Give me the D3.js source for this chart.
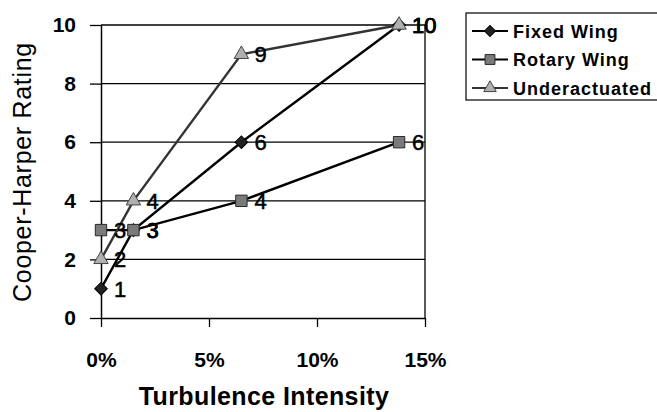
<!DOCTYPE html>
<html>
<head>
<meta charset="utf-8">
<script src="https://cdn.jsdelivr.net/npm/d3@7"></script>
<style>
  html, body { margin: 0; padding: 0; background: #fff; }
  svg { display: block; font-family: Arial, "Liberation Sans", sans-serif; }
</style>
</head>
<body>
<svg id="chart" width="657" height="412"></svg>
<script>
// Turbulence intensity (fraction) at which each configuration was flown
const turbulence = [0, 0.015, 0.065, 0.138];
const seriesNames = ["Fixed Wing", "Rotary Wing", "Underactuated"];
const fixedWing = [1, 3, 6, 10];
const rotaryWing = [3, 3, 4, 6];
const underactuated = [2, 4, 9, 10];
const xTicks = [0, 0.05, 0.10, 0.15];
const yTicks = [0, 2, 4, 6, 8, 10];

// Marker styles: diamond (rotated square), square, triangle
const series = [
  { name: seriesNames[0], values: fixedWing, shape: d3.symbolSquare, rot: 45, fill: "#222", stroke: "#000", line: "#000", size: 80 },
  { name: seriesNames[1], values: rotaryWing, shape: d3.symbolSquare, rot: 0, fill: "#7a7a7a", stroke: "#2a2a2a", line: "#000", size: 130 },
  { name: seriesNames[2], values: underactuated, shape: d3.symbolTriangle, rot: 0, fill: "#b0b0b0", stroke: "#444", line: "#333", size: 90 }
];

const svg = d3.select("#chart");
const m = { left: 101, right: 425, top: 25, bottom: 318 };

const x = d3.scaleLinear().domain([0, 0.15]).range([m.left, m.right]);
const y = d3.scaleLinear().domain([0, 10]).range([m.bottom, m.top]);

// Horizontal gridlines
svg.append("g")
  .selectAll("line")
  .data(yTicks.filter(v => v > 0))
  .join("line")
  .attr("x1", m.left).attr("x2", m.right)
  .attr("y1", d => y(d)).attr("y2", d => y(d))
  .attr("stroke", "#000").attr("stroke-width", 1.3);

// Right border of the plot area
svg.append("line")
  .attr("x1", m.right).attr("x2", m.right)
  .attr("y1", m.top).attr("y2", m.bottom)
  .attr("stroke", "#000").attr("stroke-width", 1.3);

// Y axis
const yAxis = svg.append("g")
  .attr("transform", `translate(${m.left},0)`)
  .call(d3.axisLeft(y).tickValues(yTicks).tickSize(11).tickSizeOuter(0).tickPadding(14).tickFormat(d3.format("d")));
yAxis.select(".domain").attr("stroke", "#000").attr("stroke-width", 1.5);
yAxis.selectAll(".tick line").attr("stroke", "#000").attr("stroke-width", 1.3);
yAxis.selectAll(".tick text")
  .attr("font-size", 21).attr("font-weight", "bold").attr("fill", "#000")
  .attr("font-family", "Arial, 'Liberation Sans', sans-serif");

// X axis
const xAxis = svg.append("g")
  .attr("transform", `translate(0,${m.bottom})`)
  .call(d3.axisBottom(x).tickValues(xTicks).tickSize(9).tickSizeOuter(0).tickPadding(25).tickFormat(d3.format(".0%")));
xAxis.select(".domain").attr("stroke", "#000").attr("stroke-width", 1.5);
xAxis.selectAll(".tick line").attr("stroke", "#000").attr("stroke-width", 1.3);
xAxis.selectAll(".tick text")
  .attr("font-size", 21).attr("font-weight", "bold").attr("fill", "#000")
  .attr("font-family", "Arial, 'Liberation Sans', sans-serif");

// Axis titles
svg.append("text")
  .attr("transform", `translate(31,172) rotate(-90)`)
  .attr("text-anchor", "middle")
  .attr("font-size", 25).attr("letter-spacing", 0.7)
  .text("Cooper-Harper Rating");

svg.append("text")
  .attr("x", 264).attr("y", 405)
  .attr("text-anchor", "middle")
  .attr("font-size", 25).attr("font-weight", "bold").attr("letter-spacing", 0.4)
  .text("Turbulence Intensity");

// Lines
const lineGen = d3.line().x((d, i) => x(turbulence[i])).y(d => y(d));
const plot = svg.append("g");
series.forEach(s => {
  plot.append("path")
    .datum(s.values)
    .attr("d", lineGen)
    .attr("fill", "none")
    .attr("stroke", s.line)
    .attr("stroke-width", 2.4);
});

// Markers and value labels
series.forEach(s => {
  const g = plot.append("g");
  g.selectAll("path")
    .data(s.values)
    .join("path")
    .attr("transform", (d, i) => `translate(${x(turbulence[i])},${y(d)}) rotate(${s.rot})`)
    .attr("d", d3.symbol().type(s.shape).size(s.size))
    .attr("fill", s.fill).attr("stroke", s.stroke).attr("stroke-width", 1);
  g.selectAll("text")
    .data(s.values)
    .join("text")
    .attr("x", (d, i) => x(turbulence[i]) + 13)
    .attr("y", d => y(d) + 8)
    .attr("font-size", 22)
    .attr("stroke", "#000").attr("stroke-width", 0.5)
    .text(d => d);
});

// Legend
const lg = svg.append("g").attr("transform", "translate(466,13)");
lg.append("rect")
  .attr("x", 0).attr("y", 0).attr("width", 200).attr("height", 87)
  .attr("fill", "#fff").attr("stroke", "#000").attr("stroke-width", 1.2);
series.forEach((s, i) => {
  const cy = 18 + i * 28.5;
  lg.append("line")
    .attr("x1", 6).attr("x2", 42).attr("y1", cy).attr("y2", cy)
    .attr("stroke", s.line).attr("stroke-width", 2.2);
  lg.append("path")
    .attr("transform", `translate(24,${cy}) rotate(${s.rot})`)
    .attr("d", d3.symbol().type(s.shape).size(s.size * 0.75))
    .attr("fill", s.fill).attr("stroke", s.stroke).attr("stroke-width", 1);
  lg.append("text")
    .attr("x", 47).attr("y", cy + 6.5)
    .attr("font-size", 18).attr("font-weight", "bold").attr("letter-spacing", 1)
    .text(s.name);
});
</script>
</body>
</html>
